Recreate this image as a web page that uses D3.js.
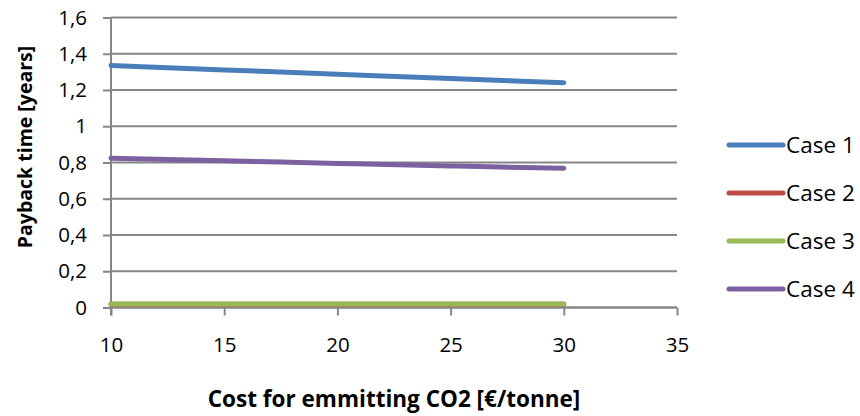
<!DOCTYPE html>
<html>
<head>
<meta charset="utf-8">
<script src="https://cdn.jsdelivr.net/npm/d3@7/dist/d3.min.js"></script>
<style>
  html, body { margin: 0; padding: 0; background: #fff; }
  svg text { font-family: "Open Sans", "Liberation Sans", sans-serif; fill: #000; }
</style>
</head>
<body>
<svg id="chart" width="860" height="416"></svg>
<script>
// Cost for emitting CO2 (€/tonne)
const costs = [10, 15, 20, 25, 30];
// Payback time (years) per case
const case1 = [1.335, 1.311, 1.287, 1.263, 1.240];
const case2 = [0.018, 0.018, 0.018, 0.018, 0.018];
const case3 = [0.019, 0.019, 0.019, 0.019, 0.019];
const case4 = [0.824, 0.810, 0.795, 0.781, 0.768];
const seriesNames = ["Case 1", "Case 2", "Case 3", "Case 4"];
const seriesColors = ["#4a7ebb", "#be4b48", "#98b954", "#7d60a0"];
const xTicks = [10, 15, 20, 25, 30, 35];
const yTicks = [0, 0.2, 0.4, 0.6, 0.8, 1, 1.2, 1.4, 1.6];

const series = [case1, case2, case3, case4];

const svg = d3.select("#chart");
const plotLeft = 111, plotRight = 677, plotTop = 17.5, plotBottom = 307.5;
const x = d3.scaleLinear().domain([10, 35]).range([plotLeft, plotRight]);
const y = d3.scaleLinear().domain([0, 1.6]).range([plotBottom, plotTop]);
const grey = "#868686";
const fmt = v => String(+v.toFixed(1)).replace(".", ",");

// Value axis: ticks and labels, gridlines across the plot
const yAxis = d3.axisLeft(y).tickValues(yTicks).tickSize(8).tickPadding(16).tickFormat(fmt);
const gy = svg.append("g").attr("transform", `translate(${plotLeft},0)`).call(yAxis);
gy.select(".domain").remove();
gy.selectAll(".tick line").attr("stroke", grey).attr("stroke-width", 2);
gy.selectAll(".tick text").attr("font-size", 20.5).attr("fill", "#000");
svg.append("g").selectAll("line").data(yTicks).join("line")
  .attr("x1", plotLeft).attr("x2", plotRight)
  .attr("y1", d => y(d)).attr("y2", d => y(d))
  .attr("stroke", grey).attr("stroke-width", 2);

// Bottom axis
const xAxis = d3.axisBottom(x).tickValues(xTicks).tickSize(8).tickPadding(22).tickFormat(d3.format("d"));
const gx = svg.append("g").attr("transform", `translate(0,${plotBottom})`).call(xAxis);
gx.select(".domain").attr("stroke", grey).attr("stroke-width", 2).attr("d", `M${plotLeft},0H${plotRight}`);
gx.selectAll(".tick line").attr("stroke", grey).attr("stroke-width", 2);
gx.selectAll(".tick text").attr("font-size", 20.5).attr("fill", "#000");

// Vertical value axis line
svg.append("line").attr("x1", plotLeft).attr("x2", plotLeft).attr("y1", plotTop).attr("y2", plotBottom + 8)
  .attr("stroke", grey).attr("stroke-width", 2);

// Series lines
const line = d3.line().x((d, i) => x(costs[i])).y(d => y(d)).curve(d3.curveMonotoneX);
series.forEach((vals, k) => {
  svg.append("path").datum(vals).attr("d", line)
    .attr("fill", "none").attr("stroke", seriesColors[k])
    .attr("stroke-width", 5).attr("stroke-linecap", "round").attr("stroke-linejoin", "round");
});

// Legend
const legend = svg.append("g");
seriesNames.forEach((name, k) => {
  const ly = 145 + k * 48;
  legend.append("line").attr("x1", 729).attr("x2", 783).attr("y1", ly).attr("y2", ly)
    .attr("stroke", seriesColors[k]).attr("stroke-width", 5).attr("stroke-linecap", "round");
  legend.append("text").attr("x", 786).attr("y", ly).attr("dy", "0.36em")
    .attr("font-size", 22.5).text(name);
});

// Axis titles
svg.append("text").attr("x", (plotLeft + plotRight) / 2).attr("y", 399).attr("dy", "0.35em")
  .attr("text-anchor", "middle").attr("font-size", 22.5).attr("font-weight", "bold")
  .text("Cost for emmitting CO2 [€/tonne]");
svg.append("text").attr("transform", "translate(25,147) rotate(-90)").attr("dy", "0.35em")
  .attr("text-anchor", "middle").attr("font-size", 19.5).attr("font-weight", "bold")
  .text("Payback time [years]");
</script>
</body>
</html>
